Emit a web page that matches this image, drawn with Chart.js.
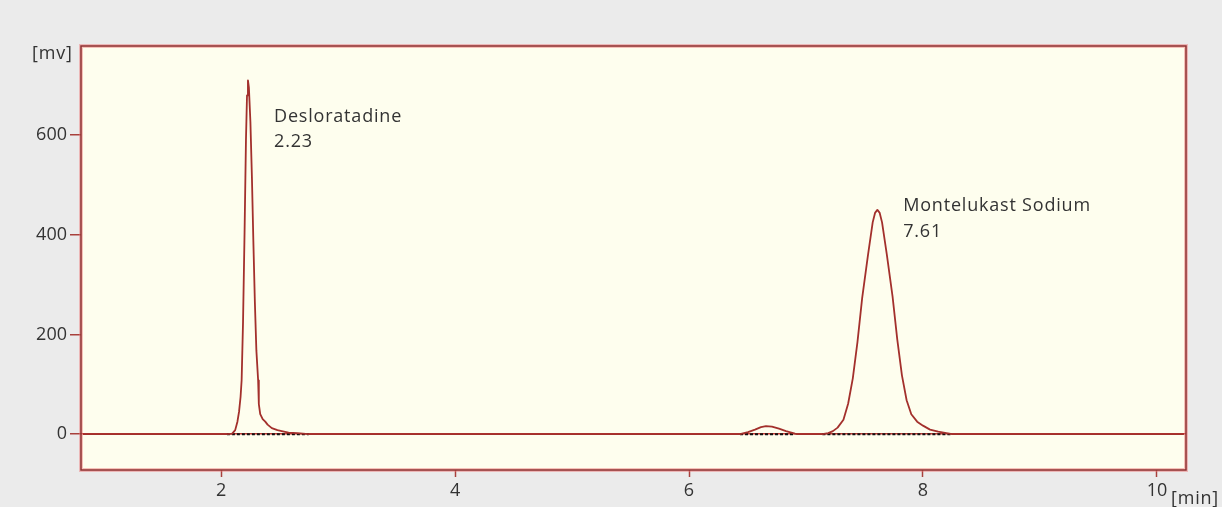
<!DOCTYPE html>
<html>
<head>
<meta charset="utf-8">
<script src="https://cdn.jsdelivr.net/npm/chart.js@4.4.1/dist/chart.umd.min.js"></script>
<style>
  html, body { margin: 0; padding: 0; background: #ebebeb; }
  #wrap { width: 1222px; height: 507px; }
  canvas { display: block; }
</style>
</head>
<body>
<div id="wrap"><canvas id="chrom" width="1222" height="507"></canvas></div>
<script>
// Detector trace: retention time [min] and signal [mV]
const traceTime = [
  0.82, 2.00,
  2.050, 2.095, 2.121, 2.140, 2.154, 2.167, 2.176, 2.188, 2.201, 2.213,
  2.222, 2.23, 2.238, 2.251, 2.264, 2.276, 2.289, 2.302, 2.317, 2.323,
  2.335, 2.356, 2.378, 2.398, 2.434, 2.482, 2.519, 2.577, 2.651, 2.750,
  6.436, 6.504, 6.564, 6.615, 6.658, 6.709, 6.769, 6.829, 6.906, 6.923,
  7.14, 7.19, 7.23, 7.27, 7.32, 7.36, 7.40, 7.44, 7.48, 7.53,
  7.57, 7.59, 7.61, 7.63, 7.65, 7.69, 7.74, 7.78, 7.82, 7.86,
  7.90, 7.95, 8.00, 8.06, 8.13, 8.20, 8.25,
  10.23
];
const traceMv = [
  0, 0,
  0, 1, 8, 25, 45, 75, 108, 225, 404, 590,
  680, 710, 696, 627, 515, 389, 266, 168, 108, 60,
  40, 30, 25, 19, 12, 8, 6, 3, 2, 0,
  0, 4, 9, 14, 16, 15, 11, 6, 1, 0,
  0, 2, 6, 13, 29, 61, 112, 185, 273, 360,
  425, 444, 450, 444, 425, 362, 276, 190, 118, 68,
  40, 25, 17, 9, 5, 2, 0,
  0
];

// Identified peaks
const peakNames = ['Desloratadine', 'Montelukast Sodium'];
const peakTimes = [2.23, 7.61];

// Integration baselines (start / end, min)
const baselineStart = [2.05, 6.436, 7.14];
const baselineEnd = [2.75, 6.906, 8.25];

// Axes
const xTicks = [2, 4, 6, 8, 10];
const yTicks = [0, 200, 400, 600];
const xRange = [0.803, 10.248];
const yRange = [-72, 779];

const FONT = "'Open Sans', 'DejaVu Sans', sans-serif";
const TEXT = '#333333';
const TRACE = '#a3302c';
const AXIS_RED = '#a8403c';

const traceData = traceTime.map((t, i) => ({ x: t, y: traceMv[i] }));

const datasets = [{
  label: 'Signal',
  data: traceData,
  borderColor: TRACE,
  borderWidth: 1.8,
  borderJoinStyle: 'round',
  pointRadius: 0,
  tension: 0,
  fill: false
}];
baselineStart.forEach((s, i) => {
  datasets.push({
    label: 'Baseline ' + (i + 1),
    data: [{ x: s, y: 0 }, { x: baselineEnd[i], y: 0 }],
    borderColor: '#111111',
    borderWidth: 2,
    borderDash: [3, 2],
    pointRadius: 0,
    fill: false
  });
});

// Label anchors in data coordinates (time, mV of first text baseline)
const labelAnchor = [
  { x: 2.453, y: 627 },
  { x: 7.831, y: 447 }
];

const framePlugin = {
  id: 'frame',
  beforeDraw(chart) {
    const { ctx, chartArea: a } = chart;
    ctx.save();
    ctx.fillStyle = '#ebebeb';
    ctx.fillRect(0, 0, chart.width, chart.height);
    ctx.fillStyle = '#fefeee';
    ctx.fillRect(a.left, a.top, a.right - a.left, a.bottom - a.top);
    ctx.restore();
  },
  afterDraw(chart) {
    const { ctx, chartArea: a, scales } = chart;
    ctx.save();
    // soft pink halo round the plot frame
    ctx.strokeStyle = 'rgba(238, 120, 120, 0.45)';
    ctx.lineWidth = 4;
    ctx.strokeRect(a.left, a.top, a.right - a.left, a.bottom - a.top);
    ctx.strokeStyle = '#8e3130';
    ctx.lineWidth = 1.5;
    ctx.strokeRect(a.left, a.top, a.right - a.left, a.bottom - a.top);

    // peak annotations
    ctx.fillStyle = TEXT;
    ctx.font = '18px ' + FONT;
    ctx.textAlign = 'left';
    ctx.textBaseline = 'alphabetic';
    if ('letterSpacing' in ctx) ctx.letterSpacing = '0.8px';
    peakNames.forEach((name, i) => {
      const px = scales.x.getPixelForValue(labelAnchor[i].x);
      const py = scales.y.getPixelForValue(labelAnchor[i].y);
      ctx.fillText(name, px, py);
      ctx.fillText(peakTimes[i].toFixed(2), px, py + 25.6);
    });

    // axis units
    ctx.textBaseline = 'middle';
    ctx.fillText('[mv]', 32, 54);
    ctx.fillText('[min]', 1171, 499);
    ctx.restore();
  }
};

function build() {
  new Chart(document.getElementById('chrom'), {
    type: 'line',
    data: { datasets },
    options: {
      responsive: false,
      animation: false,
      devicePixelRatio: 1,
      layout: { padding: { top: 46, right: 36, left: 0, bottom: 0 } },
      plugins: { legend: { display: false }, tooltip: { enabled: false } },
      scales: {
        x: {
          type: 'linear',
          min: xRange[0],
          max: xRange[1],
          afterBuildTicks(s) { s.ticks = xTicks.map(v => ({ value: v })); },
          afterFit(s) { s.height = 37; },
          border: { display: false },
          grid: {
            drawOnChartArea: false,
            drawTicks: true,
            tickLength: 7,
            tickColor: AXIS_RED,
            tickWidth: 1.5
          },
          ticks: {
            autoSkip: false,
            maxRotation: 0,
            padding: 3,
            color: TEXT,
            font: { family: FONT, size: 18 },
            callback: v => String(v)
          }
        },
        y: {
          type: 'linear',
          min: yRange[0],
          max: yRange[1],
          afterBuildTicks(s) { s.ticks = yTicks.map(v => ({ value: v })); },
          afterFit(s) { s.width = 81; },
          border: { display: false },
          grid: {
            drawOnChartArea: true,
            drawTicks: true,
            tickLength: 11,
            tickColor: AXIS_RED,
            tickWidth: 1.5,
            lineWidth: 1.5,
            color: c => (c.tick && c.tick.value === 0) ? '#c23b36' : 'rgba(0,0,0,0)'
          },
          ticks: {
            padding: 3,
            color: TEXT,
            font: { family: FONT, size: 18 },
            callback: v => String(v)
          }
        }
      }
    },
    plugins: [framePlugin]
  });
}

if (document.fonts && document.fonts.load) {
  document.fonts.load("18px 'Open Sans'").then(build, build);
} else {
  build();
}
</script>
</body>
</html>
